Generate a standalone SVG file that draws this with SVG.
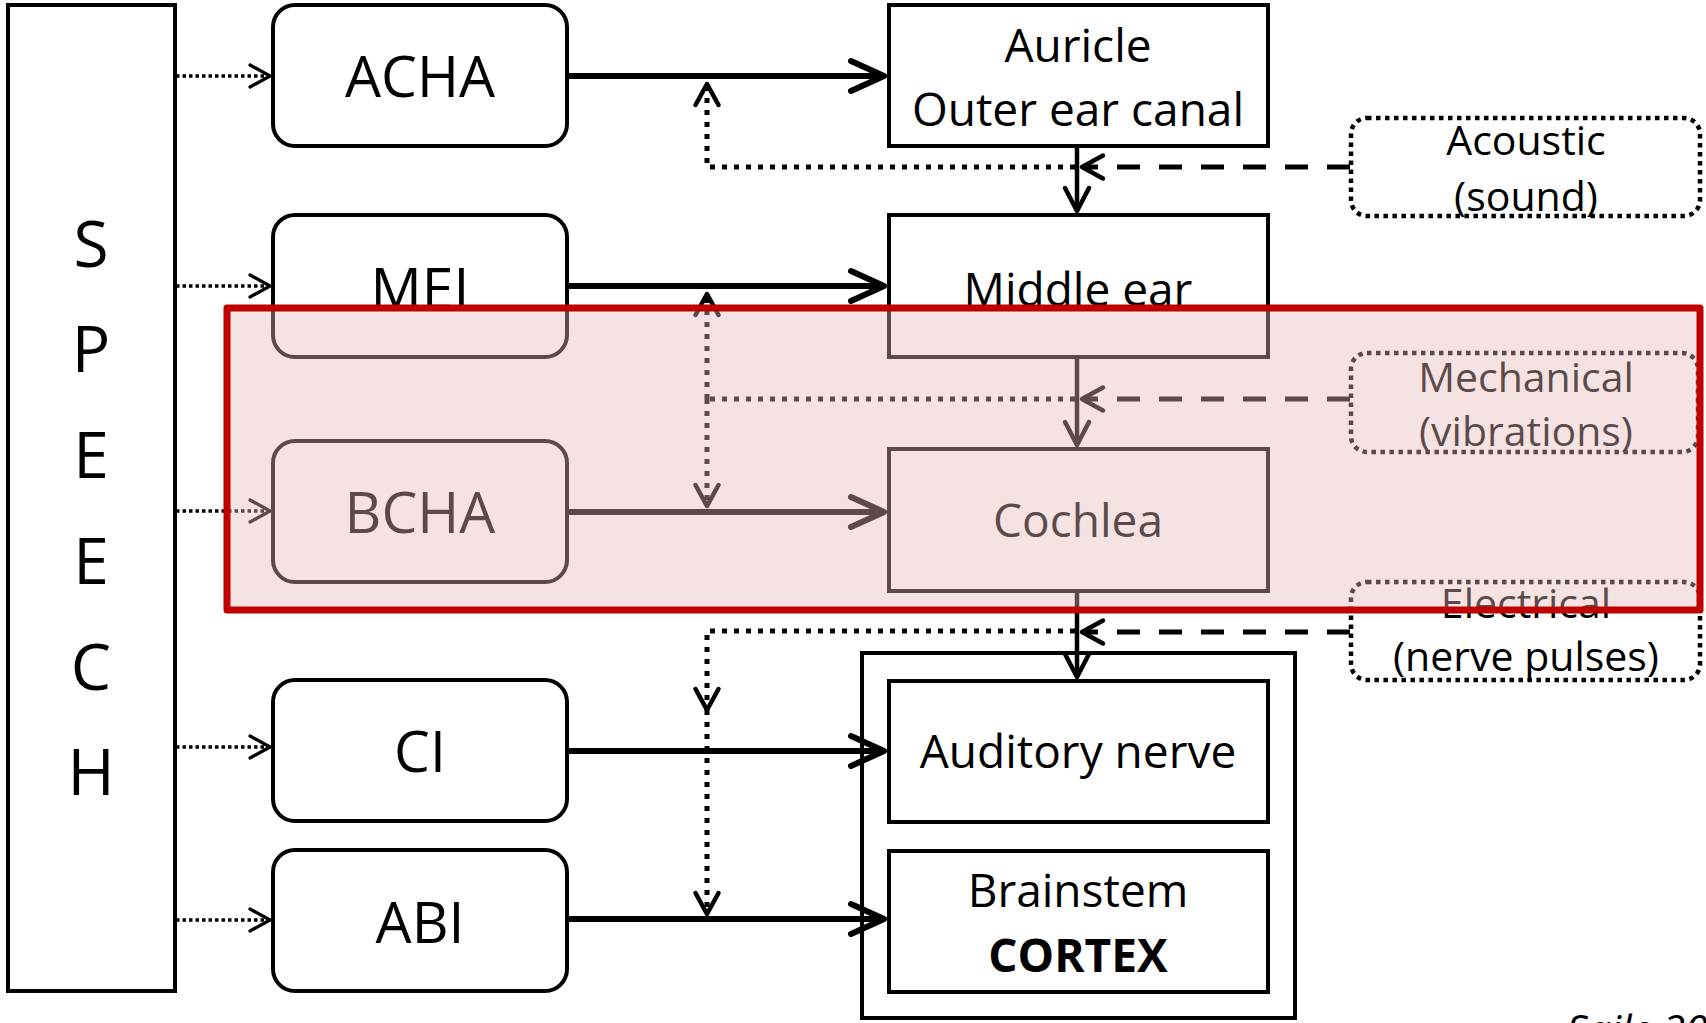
<svg xmlns="http://www.w3.org/2000/svg" width="1706" height="1023" viewBox="0 0 1706 1023">
<defs>
<style>
.t{font-family:"Open Sans","Noto Sans","Liberation Sans",sans-serif;fill:#000;text-anchor:middle}
.big{font-size:57px}
.mid{font-size:46px}
.sm{font-size:41px}
.let{font-size:64px}
.box{fill:#fff;stroke:#000;stroke-width:4}
.mode{fill:none;stroke:#000;stroke-width:4.5;stroke-dasharray:4.5 4.5}
.solid{fill:none;stroke:#000;stroke-width:6}
.vsolid{fill:none;stroke:#000;stroke-width:4.5}
.dash{fill:none;stroke:#000;stroke-width:5;stroke-dasharray:23 19}
.dot{fill:none;stroke:#000;stroke-width:5;stroke-dasharray:5 7}
.sdot{fill:none;stroke:#000;stroke-width:3.5;stroke-dasharray:3.5 3}
.mk{fill:none;stroke:#000;stroke-linecap:round;stroke-linejoin:round;stroke-dasharray:none}
</style>
<marker id="aBig" markerUnits="userSpaceOnUse" markerWidth="60" markerHeight="60" refX="50" refY="30" orient="auto" overflow="visible">
<path class="mk" stroke-width="6" d="M17,15 L50,30 L17,45"/>
</marker>
<marker id="aMed" markerUnits="userSpaceOnUse" markerWidth="60" markerHeight="60" refX="50" refY="30" orient="auto" overflow="visible">
<path class="mk" stroke-width="4.5" d="M27,18 L50,30 L27,42"/>
</marker>
<marker id="aDot" markerUnits="userSpaceOnUse" markerWidth="60" markerHeight="60" refX="50" refY="30" orient="auto" overflow="visible">
<path class="mk" stroke-width="4.5" d="M29,18.5 L50,30 L29,41.5"/>
</marker>
<marker id="aSmall" markerUnits="userSpaceOnUse" markerWidth="60" markerHeight="60" refX="50" refY="30" orient="auto" overflow="visible">
<path class="mk" stroke-width="3.2" d="M30,19 L50,30 L30,41"/>
</marker>
</defs>
<rect x="0" y="0" width="1706" height="1023" fill="#fff"/>

<g id="speech">
<rect class="box" x="8" y="5" width="167" height="986"/>
<text class="t let" x="91" y="267">S</text>
<text class="t let" x="91" y="372">P</text>
<text class="t let" x="91" y="478">E</text>
<text class="t let" x="91" y="584">E</text>
<text class="t let" x="91" y="690">C</text>
<text class="t let" x="91" y="795">H</text>
</g>

<g id="acha"><rect class="box" x="273" y="5" width="294" height="141" rx="22"/><text class="t big" x="420" y="97">ACHA</text></g>
<g id="mei"><rect class="box" x="273" y="215" width="294" height="142" rx="22"/><text class="t big" x="420" y="309">MEI</text></g>
<g id="bcha"><rect class="box" x="273" y="441" width="294" height="141" rx="22"/><text class="t big" x="420" y="533">BCHA</text></g>
<g id="ci"><rect class="box" x="273" y="680" width="294" height="141" rx="22"/><text class="t big" x="420" y="772">CI</text></g>
<g id="abi"><rect class="box" x="273" y="850" width="294" height="141" rx="22"/><text class="t big" x="420" y="943">ABI</text></g>

<g id="auricle"><rect class="box" x="889" y="5" width="379" height="141"/>
<text class="t mid" x="1078" y="62">Auricle</text><text class="t mid" x="1078" y="126">Outer ear canal</text></g>
<g id="middle-ear"><rect class="box" x="889" y="215" width="379" height="142"/><text class="t mid" x="1078" y="306">Middle ear</text></g>
<g id="cochlea"><rect class="box" x="889" y="449" width="379" height="142"/><text class="t mid" x="1078" y="537">Cochlea</text></g>
<g id="central"><rect class="box" x="862" y="653" width="433" height="365"/></g>
<g id="auditory-nerve"><rect class="box" x="889" y="681" width="379" height="141"/><text class="t mid" x="1078" y="768">Auditory nerve</text></g>
<g id="brainstem"><rect class="box" x="889" y="851" width="379" height="141"/>
<text class="t mid" x="1078" y="907">Brainstem</text><text class="t mid" x="1078" y="972" font-weight="bold">CORTEX</text></g>

<g id="acoustic"><rect class="mode" x="1351" y="118" width="349" height="98" rx="16"/>
<text class="t sm" x="1526" y="155">Acoustic</text><text class="t sm" x="1526" y="211">(sound)</text></g>
<g id="mechanical"><rect class="mode" x="1351" y="353" width="347" height="99" rx="16"/>
<text class="t sm" x="1526" y="392">Mechanical</text><text class="t sm" x="1526" y="446">(vibrations)</text></g>
<g id="electrical"><rect class="mode" x="1351" y="582" width="349" height="98" rx="16"/>
<text class="t sm" x="1526" y="618">Electrical</text><text class="t sm" x="1526" y="671">(nerve pulses)</text></g>

<g id="connectors">
<path class="sdot" d="M176 76 H270" marker-end="url(#aSmall)"/>
<path class="sdot" d="M176 286 H270" marker-end="url(#aSmall)"/>
<path class="sdot" d="M176 511 H270" marker-end="url(#aSmall)"/>
<path class="sdot" d="M176 747 H270" marker-end="url(#aSmall)"/>
<path class="sdot" d="M176 920 H270" marker-end="url(#aSmall)"/>

<path class="solid" d="M567 76 H884" marker-end="url(#aBig)"/>
<path class="solid" d="M567 286 H884" marker-end="url(#aBig)"/>
<path class="solid" d="M567 512 H884" marker-end="url(#aBig)"/>
<path class="solid" d="M567 751 H884" marker-end="url(#aBig)"/>
<path class="solid" d="M567 919 H884" marker-end="url(#aBig)"/>

<path class="vsolid" d="M1077 146 V211" marker-end="url(#aMed)"/>
<path class="vsolid" d="M1077 357 V445" marker-end="url(#aMed)"/>
<path class="vsolid" d="M1077 591 V677" marker-end="url(#aMed)"/>

<path class="dash" d="M1350 167 H1082" marker-end="url(#aDot)"/>
<path class="dash" d="M1350 399 H1082" marker-end="url(#aDot)"/>
<path class="dash" d="M1350 632 H1082" marker-end="url(#aDot)"/>

<path class="dot" d="M1075 167 H707 V84" marker-end="url(#aDot)"/>
<path class="dot" d="M1075 399 H707"/>
<path class="dot" d="M707 399 V294" marker-end="url(#aDot)"/>
<path class="dot" d="M707 399 V506" marker-end="url(#aDot)"/>
<path class="dot" d="M1075 631 H707 V710" marker-end="url(#aDot)"/>
<path class="dot" d="M707 710 V914" marker-end="url(#aDot)"/>
</g>

<g id="highlight">
<rect x="227" y="308" width="1473" height="302" fill="#E6B9B8" fill-opacity="0.4" stroke="#C00000" stroke-width="7" stroke-linejoin="round"/>
</g>

<text class="t" x="1567" y="1044" font-size="41" font-style="italic" text-anchor="start" style="text-anchor:start">Saile 20</text>
</svg>
